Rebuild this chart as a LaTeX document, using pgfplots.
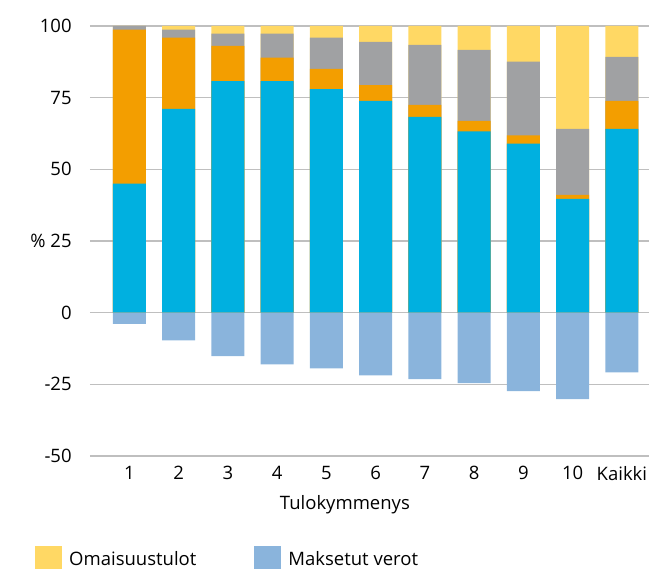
\documentclass[border=0pt]{standalone}
\usepackage{fontspec}
\setmainfont{Open Sans}
\usepackage{pgfplots}
\pgfplotsset{compat=1.18}
\definecolor{cblue}{RGB}{0,176,224}
\definecolor{corange}{RGB}{243,158,0}
\definecolor{cgray}{RGB}{160,161,163}
\definecolor{cyellow}{RGB}{255,216,100}
\definecolor{ctax}{RGB}{138,180,220}
\pgfplotstableread{
idx blue orange gray yellow tax
0 45.0 98.7 100 100 -3.9
1 71.1 95.9 98.7 100 -9.7
2 80.8 93.1 97.3 100 -15.2
3 80.8 89.0 97.3 100 -18.0
4 78.0 85.0 95.9 100 -19.4
5 73.9 79.4 94.5 100 -21.9
6 68.3 72.5 93.4 100 -23.2
7 63.2 66.9 91.7 100 -24.6
8 59.0 61.8 87.6 100 -27.4
9 39.7 41.1 64.1 100 -30.2
10 64.1 73.9 89.2 100 -20.8
}\data
\begin{document}
\fontsize{18.5pt}{22pt}\selectfont
\begin{tikzpicture}
\useasboundingbox (0,0) rectangle (649pt,569pt);
\begin{axis}[
  at={(90pt,113pt)}, anchor=south west,
  scale only axis, width=559pt, height=430pt,
  xmin=-0.8, xmax=10.55, ymin=-50, ymax=100,
  ytick={-50,-25,0,25,50,75,100},
  yticklabels={-50,-25,0,\% 25,50,75,100},
  yticklabel style={xshift=-12pt},
  xtick={0,1,2,3,4,5,6,7,8,9,10},
  xticklabels={1,2,3,4,5,6,7,8,9,10,Kaikki},
  xticklabel style={yshift=-4pt},
  axis line style={draw=none},
  major tick length=0pt,
  ymajorgrids,
  grid style={line width=1.3pt, color=black!25},
  ybar, bar width=33pt,
  xlabel={Tulokymmenys},
  xlabel style={at={(axis description cs:0.456,0)}, anchor=north, yshift=-33pt},
  legend columns=2,
  legend style={draw=none, at={(axis description cs:0,0)}, anchor=north west,
    xshift=-55pt, yshift=-90pt, inner sep=0pt,
    /tikz/every even column/.append style={column sep=56pt}},
  legend image code/.code={\fill[#1] (0pt,-13.5pt) rectangle (27pt,13.5pt); \path (32pt,0pt);},
  clip=false,
]
\addplot[fill=cyellow, draw=none, bar shift=0pt] table[x=idx,y=yellow]{\data};
\addlegendentry{Omaisuustulot}
\addplot[fill=cgray, draw=none, bar shift=0pt, forget plot] table[x=idx,y=gray]{\data};
\addplot[fill=corange, draw=none, bar shift=0pt, forget plot] table[x=idx,y=orange]{\data};
\addplot[fill=cblue, draw=none, bar shift=0pt, forget plot] table[x=idx,y=blue]{\data};
\addplot[fill=ctax, draw=none, bar shift=0pt] table[x=idx,y=tax]{\data};
\addlegendentry{Maksetut verot}
\end{axis}
\end{tikzpicture}
\end{document}
